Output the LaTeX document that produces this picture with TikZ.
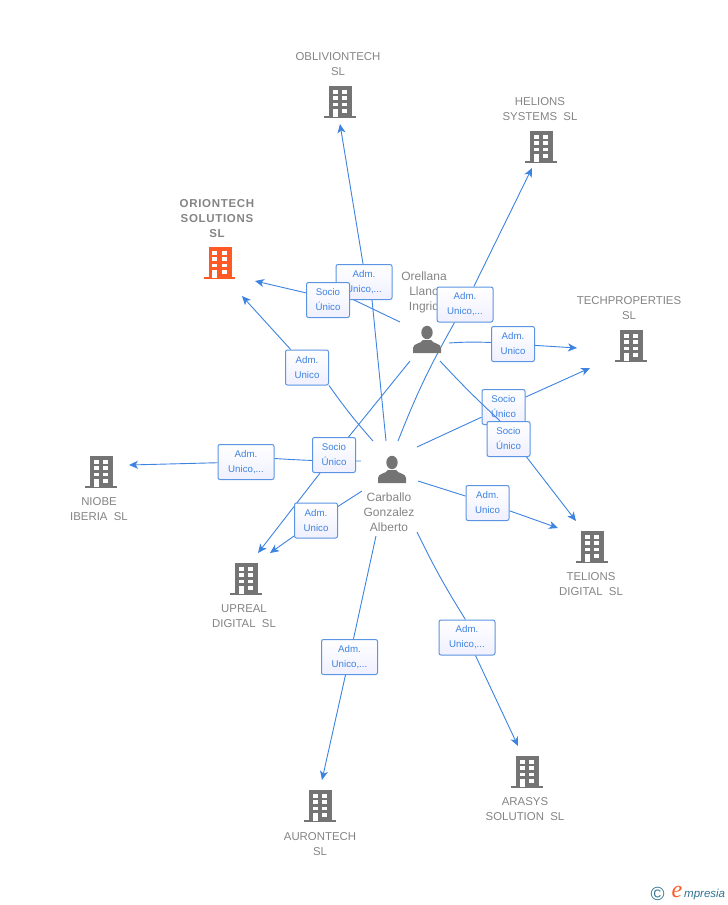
\documentclass[tikz,border=0pt]{standalone}
\usepackage{fontspec}
\setmainfont{Liberation Sans}
\newfontfamily\logofont{Liberation Serif}
\usetikzlibrary{arrows.meta}

\pgfdeclarelayer{links}
\pgfdeclarelayer{lowbox}
\pgfdeclarelayer{overlink}
\pgfsetlayers{links,lowbox,overlink,main}

\definecolor{flowblue}{HTML}{3D83E0}
\definecolor{boxblue}{HTML}{5B94E3}
\definecolor{iconGrey}{HTML}{747474}
\definecolor{textGrey}{HTML}{848484}
\definecolor{orionRed}{HTML}{FF5A26}
\definecolor{logoTeal}{HTML}{2F7391}

\tikzset{
    flow/.style={draw=flowblue, line width=0.9pt},
    tip/.style={flow, -{Stealth[length=9pt, width=8pt, inset=2.5pt]}},
    role/.style={draw=boxblue, line width=1pt, rounded corners=2pt, top color=white,
        bottom color=white!94!blue, text=flowblue, align=center, inner sep=0pt,
        minimum height=35pt, font=\fontsize{9.7}{15}\selectfont},
    narrow/.style={role, minimum width=43pt},
    wide/.style={role, minimum width=56pt},
    caption/.style={text=textGrey, align=center, inner sep=0pt, font=\fontsize{11.4}{15}\selectfont},
    bldg/.pic={
        \fill[#1] (-11, -16) rectangle (12, 14);
        \fill[#1] (-16, 13.7) rectangle (15.7, 16.2);
        \fill[white] (-7.2, -12.5) rectangle (-2.4, -8);
        \fill[white] (2, -12.5) rectangle (7, -8);
        \fill[white] (-7.2, -6) rectangle (-2.4, -2.3);
        \fill[white] (2, -6) rectangle (7, -2.3);
        \fill[white] (-7.2, 0.5) rectangle (-2.4, 4.2);
        \fill[white] (2, 0.5) rectangle (7, 4.2);
        \fill[white] (-7.2, 6.8) rectangle (-2.4, 14.7);
        \fill[white] (2, 6.8) rectangle (7, 10.6);
    },
    person/.pic={
        \fill[iconGrey] (0, -7.5) ellipse (5.7 and 6.7);
        \fill[iconGrey] (-14, 13) -- (-14, 8) .. controls (-14, 3) and (-6, 4) .. (-4, 0)
            -- (4, 0) .. controls (6, 4) and (14, 3) .. (14, 8) -- (14, 13) -- cycle;
    }
}

\begin{document}
\begin{tikzpicture}[x=1pt, y=-1pt]

    \useasboundingbox (0, 0) rectangle (728, 905);

    % Companies
    \pic at (340, 102) {bldg=iconGrey};
    \pic at (541, 147) {bldg=iconGrey};
    \pic at (219.5, 263) {bldg=orionRed};
    \pic at (631, 346) {bldg=iconGrey};
    \pic at (101, 472) {bldg=iconGrey};
    \pic at (246, 579) {bldg=iconGrey};
    \pic at (592, 547) {bldg=iconGrey};
    \pic at (527, 772) {bldg=iconGrey};
    \pic at (320, 806) {bldg=iconGrey};

    % People
    \pic at (427, 340) {person};
    \pic at (392, 470) {person};

    % Captions
    \node[caption] (oblivion) at (338, 64) {OBLIVIONTECH\\SL};
    \node[caption] (helions) at (540, 109) {HELIONS\\SYSTEMS\ \ SL};
    \node[caption, font=\fontsize{11.5}{15}\selectfont\bfseries\addfontfeature{LetterSpace=6}] (orion) at (217, 218.5) {ORIONTECH\\SOLUTIONS\\SL};
    \node[caption] (techprop) at (629, 308) {TECHPROPERTIES\\SL};
    \node[caption] (niobe) at (99, 509) {NIOBE\\IBERIA\ \ SL};
    \node[caption] (upreal) at (244, 616) {UPREAL\\DIGITAL\ \ SL};
    \node[caption] (telions) at (591, 584) {TELIONS\\DIGITAL\ \ SL};
    \node[caption] (arasys) at (525, 809) {ARASYS\\SOLUTION\ \ SL};
    \node[caption] (auron) at (320, 844) {AURONTECH\\SL};
    \node[caption, font=\fontsize{12}{15}\selectfont] (orellana) at (424, 292.5) {Orellana\\Llano\\Ingrid};
    \node[caption, font=\fontsize{12}{15}\selectfont] (carballo) at (389, 512.5) {Carballo\\Gonzalez\\Alberto};

    % Free ends at the two people
    \coordinate (cOblivion) at (386, 441);
    \coordinate (cHelions) at (398, 441);
    \coordinate (cTech) at (417, 447);
    \coordinate (cTelions) at (418, 481);
    \coordinate (cArasys) at (417, 532);
    \coordinate (cAuron) at (376, 536);
    \coordinate (cUpreal) at (362, 491);
    \coordinate (cNiobe) at (361, 461);
    \coordinate (cOrion) at (373, 441);
    \coordinate (oOrion) at (400, 322);
    \coordinate (oUpreal) at (410, 361);
    \coordinate (oTech) at (449, 343);
    \coordinate (oTelions) at (440, 361);

    % Free ends at the companies
    \coordinate (tOblivion) at (340, 124);
    \coordinate (tHelions) at (532, 168);
    \coordinate (tOrionA) at (255, 281);
    \coordinate (tOrionB) at (242, 296);
    \coordinate (tTechA) at (577, 348);
    \coordinate (tTechB) at (590, 368);
    \coordinate (tNiobe) at (129, 465);
    \coordinate (tUprealA) at (258, 553);
    \coordinate (tUprealB) at (270, 553);
    \coordinate (tTelionsA) at (576, 521);
    \coordinate (tTelionsB) at (558, 528);
    \coordinate (tArasys) at (518, 746);
    \coordinate (tAuron) at (322, 780);

    % Role boxes
    \node[wide] (admOblivion) at (364, 282) {Adm.\\Unico,...};
    \node[narrow] (socioOrion) at (328, 300) {Socio\\Único};
    \node[wide] (admHelions) at (465, 304.5) {Adm.\\Unico,...};
    \node[narrow] (admOrion) at (307, 367.5) {Adm.\\Unico};
    \node[narrow] (admTech) at (513, 344) {Adm.\\Unico};
    \begin{pgfonlayer}{lowbox}
        \node[narrow] (socioTech) at (503.5, 407) {Socio\\Único};
    \end{pgfonlayer}
    \node[narrow] (socioTelions) at (508.5, 439) {Socio\\Único};
    \node[wide] (admNiobe) at (246, 462) {Adm.\\Unico,...};
    \node[narrow] (socioUpreal) at (334, 455) {Socio\\Único};
    \node[narrow] (admUpreal) at (316, 520.5) {Adm.\\Unico};
    \node[narrow] (admTelions) at (487.5, 503) {Adm.\\Unico};
    \node[wide] (admArasys) at (467, 637.5) {Adm.\\Unico,...};
    \node[wide] (admAuron) at (349.5, 657) {Adm.\\Unico,...};

    % Connectors
    \begin{pgfonlayer}{links}
        \draw[flow] (cOblivion) -- (admOblivion.-66);
        \draw[tip] (admOblivion.93) -- (tOblivion);
        \draw[flow] (cHelions) to[bend left=4] (admHelions);
        \draw[tip] (admHelions) -- (tHelions);
        \draw[flow] (cTech) -- (socioTech);
        \draw[tip] (socioTech) -- (tTechB);
        \draw[flow] (cTelions) -- (admTelions);
        \draw[tip] (admTelions) -- (tTelionsB);
        \draw[flow] (cArasys) to[bend right=3] (admArasys.95);
        \draw[tip] (admArasys) -- (tArasys);
        \draw[flow] (cAuron) -- (admAuron);
        \draw[tip] (admAuron) -- (tAuron);
        \draw[flow] (cUpreal) -- (admUpreal);
        \draw[tip] (admUpreal) -- (tUprealB);
        \draw[flow] (cNiobe) to[bend left=2] (admNiobe.7);
        \draw[tip] (admNiobe) -- (tNiobe);
        \draw[flow] (cOrion) to[bend left=3] (admOrion.south east);
        \draw[tip] (admOrion) -- (tOrionB);
        \draw[flow] (oOrion) -- (socioOrion.5);
        \draw[tip] (socioOrion.162) -- (tOrionA);
        \draw[flow] (oUpreal) -- (socioUpreal);
        \draw[tip] (socioUpreal) -- (tUprealA);
        \draw[flow] (oTech) to[bend left=3] (admTech);
        \draw[tip] (admTech) -- (tTechA);
    \end{pgfonlayer}

    % Over the lower box, under the upper one
    \begin{pgfonlayer}{overlink}
        \draw[flow] (oTelions) to[bend right=2] (socioTelions.115);
        \draw[tip] (socioTelions.-45) -- (tTelionsA);
    \end{pgfonlayer}

    % Logo
    \node[text=logoTeal, inner sep=0pt, font=\fontsize{19}{19}\selectfont] (copy) at (657.5, 894) {©};
    \node[text=orionRed, inner sep=0pt, font=\logofont\fontsize{24}{24}\selectfont\itshape] (logoE) at (677, 892) {e};
    \node[text=logoTeal, inner sep=0pt, anchor=west, font=\fontsize{11.5}{12}\selectfont\itshape] (logo) at (684, 895) {mpresia};

\end{tikzpicture}
\end{document}
